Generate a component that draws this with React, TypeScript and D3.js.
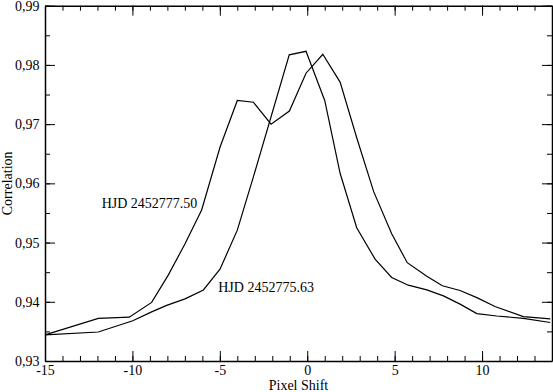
import { useEffect, useRef } from 'react';
import * as d3 from 'd3';

// HJD 2452777.50 (shoulder at -4)
const shiftA = [-15, -11.95, -10.18, -8.9, -7.95, -6.99, -6.04, -4.99, -4.0, -3.08, -2.07, -1.02, -0.07, 0.89, 1.88, 2.83, 3.8, 4.83, 5.72, 6.84, 7.73, 8.74, 9.7, 10.74, 12.36, 13.9];
const corrA = [0.9344, 0.9372, 0.9374, 0.9399, 0.9445, 0.9498, 0.9555, 0.9661, 0.974, 0.9737, 0.97, 0.9722, 0.9786, 0.9818, 0.9771, 0.9677, 0.9586, 0.9515, 0.9466, 0.9443, 0.9427, 0.9419, 0.9407, 0.9392, 0.9375, 0.9371];

// HJD 2452775.63
const shiftB = [-15, -11.95, -9.98, -8.9, -8.04, -6.99, -5.94, -4.99, -4.0, -3.08, -1.03, -0.07, 1.0, 1.88, 2.83, 3.88, 4.83, 5.78, 6.84, 7.79, 8.74, 9.7, 10.84, 12.36, 13.9];
const corrB = [0.9344, 0.9349, 0.9368, 0.9383, 0.9394, 0.9405, 0.942, 0.9455, 0.9521, 0.9611, 0.9817, 0.9823, 0.974, 0.9617, 0.9525, 0.9472, 0.9441, 0.9428, 0.942, 0.941, 0.9396, 0.938, 0.9376, 0.9372, 0.9365];

const xTicks = [-15, -10, -5, 0, 5, 10];
const yTicks = [0.93, 0.94, 0.95, 0.96, 0.97, 0.98, 0.99];

// annotation anchors, in data units
const labels = [
  { text: 'HJD 2452777.50', x: -11.76, y: 0.9558 },
  { text: 'HJD 2452775.63', x: -5.09, y: 0.9417 },
];

const FONT = '"Liberation Serif", "Times New Roman", serif';

const App = () => {
  const svgRef = useRef<SVGSVGElement>(null);

  useEffect(() => {
    const svg = d3.select(svgRef.current);
    svg.selectAll('*').remove();

    const width = 553;
    const height = 392;
    const left = 45, right = 552, top = 5.7, bottom = 361;

    const x = d3.scaleLinear().domain([-15, 14]).range([left, right]);
    const y = d3.scaleLinear().domain([0.93, 0.99]).range([bottom, top]);

    svg.attr('width', width).attr('height', height);

    const fmt = (d: number) => d.toFixed(2).replace('.', ',');
    const minorX = d3.range(-15, 15, 1);
    const minorY = d3.range(0, 13).map(i => 0.93 + i * 0.005);

    const styleAxis = (g: any) => {
      g.selectAll('path').attr('stroke', '#000').attr('stroke-width', 1.5);
      g.selectAll('line').attr('stroke', '#000').attr('stroke-width', 1);
      g.selectAll('text').attr('font-family', FONT).attr('font-size', 14).attr('fill', '#000');
    };

    // minor ticks, all four sides
    const addMinor = (axis: any, transform: string) => {
      svg.append('g').attr('transform', transform)
        .call(axis.tickSizeInner(-5).tickSizeOuter(0).tickFormat(() => ''))
        .call((g: any) => { g.select('path').remove(); g.selectAll('line').attr('stroke', '#000'); });
    };
    addMinor(d3.axisBottom(x).tickValues(minorX), `translate(0,${bottom})`);
    addMinor(d3.axisTop(x).tickValues(minorX), `translate(0,${top})`);
    addMinor(d3.axisLeft(y).tickValues(minorY), `translate(${left},0)`);
    addMinor(d3.axisRight(y).tickValues(minorY), `translate(${right},0)`);

    // major ticks
    svg.append('g').attr('transform', `translate(0,${bottom})`)
      .call(d3.axisBottom(x).tickValues(xTicks).tickSizeInner(-10).tickSizeOuter(0).tickPadding(4).tickFormat(d => `${d}`))
      .call(styleAxis);
    svg.append('g').attr('transform', `translate(0,${top})`)
      .call(d3.axisTop(x).tickValues(xTicks).tickSizeInner(-10).tickSizeOuter(0).tickFormat(() => ''))
      .call(styleAxis);
    svg.append('g').attr('transform', `translate(${left},0)`)
      .call(d3.axisLeft(y).tickValues(yTicks).tickSizeInner(-10).tickSizeOuter(0).tickPadding(5.5).tickFormat(d => fmt(d as number)))
      .call(styleAxis);
    svg.append('g').attr('transform', `translate(${right},0)`)
      .call(d3.axisRight(y).tickValues(yTicks).tickSizeInner(-10).tickSizeOuter(0).tickFormat(() => ''))
      .call(styleAxis);

    // data lines
    const line = d3.line<[number, number]>().x(d => x(d[0])).y(d => y(d[1]));
    const seriesA = shiftA.map((s, i) => [s, corrA[i]] as [number, number]);
    const seriesB = shiftB.map((s, i) => [s, corrB[i]] as [number, number]);

    svg.selectAll('.series')
      .data([seriesA, seriesB])
      .enter().append('path')
      .attr('class', 'series')
      .attr('d', line)
      .attr('fill', 'none')
      .attr('stroke', '#000')
      .attr('stroke-width', 1.2);

    // annotations
    svg.selectAll('.ann')
      .data(labels)
      .enter().append('text')
      .attr('class', 'ann')
      .attr('x', d => x(d.x))
      .attr('y', d => y(d.y))
      .attr('font-family', FONT)
      .attr('font-size', 14)
      .text(d => d.text);

    // axis titles
    svg.append('text')
      .attr('x', (left + right) / 2)
      .attr('y', 390)
      .attr('text-anchor', 'middle')
      .attr('font-family', FONT)
      .attr('font-size', 14)
      .text('Pixel Shift');

    svg.append('text')
      .attr('transform', `translate(12,${(top + bottom) / 2}) rotate(-90)`)
      .attr('text-anchor', 'middle')
      .attr('font-family', FONT)
      .attr('font-size', 14)
      .text('Correlation');
  }, []);

  return (
    <div style={{ position: 'absolute', left: 0, top: 0 }}>
      <svg ref={svgRef} style={{ display: 'block' }}></svg>
    </div>
  );
};

export default App;
